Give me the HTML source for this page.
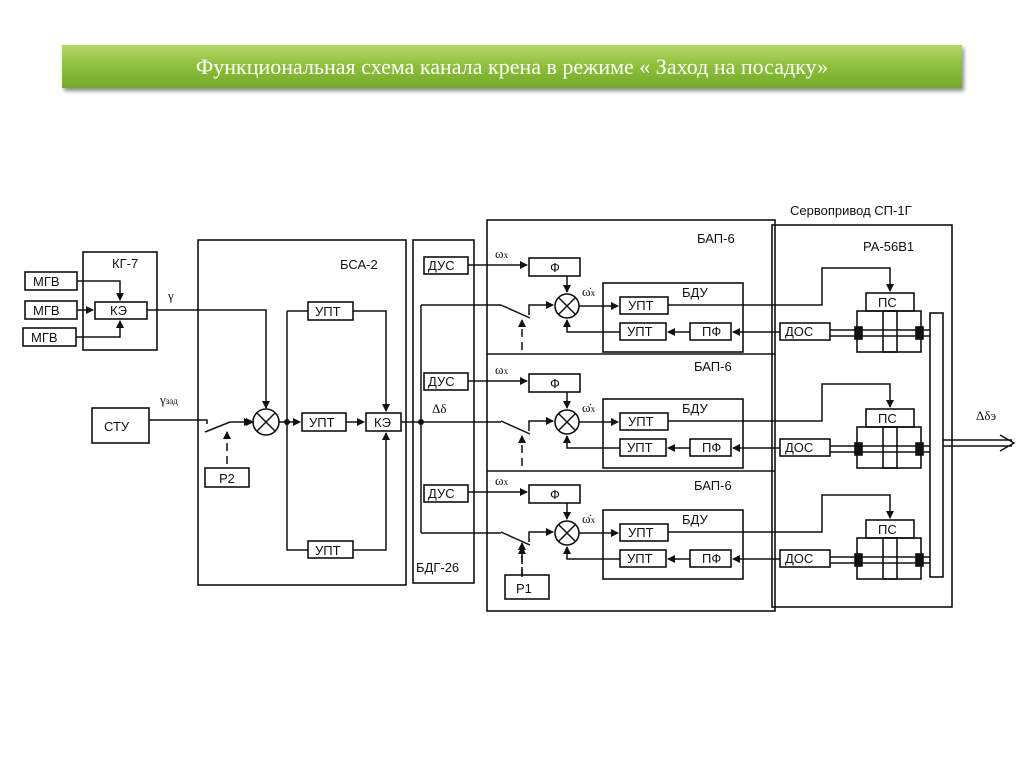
<!DOCTYPE html>
<html><head><meta charset="utf-8"><style>
body{margin:0;width:1024px;height:767px;background:#fff;overflow:hidden;position:relative;font-family:"Liberation Sans",sans-serif}
.ban{position:absolute;left:62px;top:45px;width:900px;height:43px;background:linear-gradient(#b5d86a,#8cbf3a 50%,#77a82c);box-shadow:2px 3px 4px rgba(0,0,0,.45);color:#fff;font-family:"Liberation Serif",serif;font-size:22px;text-align:center;line-height:43px}
svg{position:absolute;left:0;top:0}
text{font-family:"Liberation Sans",sans-serif;font-size:13px;fill:#111}
.g{font-family:"Liberation Serif",serif}
rect{fill:none;stroke:#111;stroke-width:1.6}
path,line{fill:none;stroke:#111;stroke-width:1.5}
</style></head><body>
<div class="ban">Функциональная схема канала крена в режиме « Заход на посадку»</div>
<svg width="1024" height="767">
<defs><marker id="a" markerWidth="8" markerHeight="8" refX="7" refY="4" orient="auto" markerUnits="userSpaceOnUse"><path d="M0,0L8,4L0,8z" style="fill:#111;stroke:none"/></marker></defs>
<!-- КГ-7 -->
<rect x="83" y="252" width="74" height="98"/><text x="112" y="268">КГ-7</text>
<rect x="25" y="272" width="52" height="18"/><text x="33" y="286">МГВ</text>
<rect x="25" y="301" width="52" height="18"/><text x="33" y="315">МГВ</text>
<rect x="23" y="328" width="53" height="18"/><text x="31" y="342">МГВ</text>
<rect x="95" y="302" width="52" height="17"/><text x="110" y="315">КЭ</text>
<path d="M77,281H120V300" marker-end="url(#a)"/><path d="M77,310H93" marker-end="url(#a)"/><path d="M76,337H120V321" marker-end="url(#a)"/>
<text x="168" y="300" class="g">γ</text>
<path d="M147,310H266V408" marker-end="url(#a)"/>
<!-- БСА-2 -->
<rect x="198" y="240" width="208" height="345"/><text x="340" y="269">БСА-2</text>
<rect x="92" y="408" width="57" height="35"/><text x="104" y="431">СТУ</text>
<text x="160" y="404" class="g">γ<tspan font-size="9">зад</tspan></text>
<path d="M149,420H207V424M205,432L230,422H251" marker-end="url(#a)"/>
<path d="M251,422H253" marker-end="url(#a)"/>
<rect x="205" y="468" width="44" height="19"/><text x="219" y="483">Р2</text>
<path d="M227,464V432" stroke-dasharray="8,5" marker-end="url(#a)"/>
<circle cx="266" cy="422" r="13" fill="none" stroke="#111" stroke-width="1.6"/><path d="M257,413L275,431M275,413L257,431"/>
<path d="M279,422H300" marker-end="url(#a)"/><circle cx="287" cy="422" r="3" fill="#111"/>
<path d="M287,311V550H308M287,311H308"/>
<rect x="308" y="302" width="45" height="18"/><text x="315" y="316">УПТ</text>
<rect x="302" y="413" width="44" height="18"/><text x="309" y="427">УПТ</text>
<rect x="308" y="541" width="45" height="17"/><text x="315" y="555">УПТ</text>
<rect x="366" y="413" width="35" height="18"/><text x="374" y="427">КЭ</text>
<path d="M346,422H364" marker-end="url(#a)"/>
<path d="M353,311H386V411" marker-end="url(#a)"/><path d="M353,550H386V433" marker-end="url(#a)"/>
<path d="M401,422H501"/><circle cx="421" cy="422" r="3" fill="#111"/>
<text x="432" y="413" class="g" font-size="12">Δδ</text>
<!-- БДГ-26 -->
<rect x="413" y="240" width="61" height="343"/><text x="416" y="572">БДГ-26</text>
<rect x="424" y="257" width="44" height="17"/><text x="428" y="270">ДУС</text>
<rect x="424" y="373" width="44" height="17"/><text x="428" y="386">ДУС</text>
<rect x="424" y="485" width="44" height="17"/><text x="428" y="498">ДУС</text>
<path d="M421,305V533M421,305H501M421,533H501"/>
<!-- БАП-6 -->
<rect x="487" y="220" width="288" height="391"/><line x1="487" y1="354" x2="775" y2="354"/><line x1="487" y1="471" x2="775" y2="471"/>
<text x="697" y="243">БАП-6</text><text x="694" y="371">БАП-6</text><text x="694" y="490">БАП-6</text>
<rect x="505" y="575" width="44" height="24"/><text x="516" y="593">Р1</text>
<path d="M522,575V543" stroke-dasharray="8,5" marker-end="url(#a)"/>
<g id="ch">
<path d="M468,265H527" marker-end="url(#a)"/>
<text x="495" y="258" class="g">ω<tspan font-size="9">x</tspan></text>
<rect x="529" y="258" width="51" height="18"/><text x="550" y="272">Ф</text>
<path d="M567,276V292" marker-end="url(#a)"/>
<text x="582" y="296" class="g">ω̇<tspan font-size="9">x</tspan></text>
<path d="M501,305L530,318M529,315V305H553" marker-end="url(#a)"/>
<path d="M522,350V320" stroke-dasharray="8,5" marker-end="url(#a)"/>
<circle cx="567" cy="306" r="12" fill="none" stroke="#111" stroke-width="1.6"/><path d="M559,298L575,314M575,298L559,314"/>
<path d="M579,306H618" marker-end="url(#a)"/>
<rect x="603" y="283" width="140" height="69"/><text x="682" y="297">БДУ</text>
<rect x="620" y="297" width="48" height="17"/><text x="628" y="310">УПТ</text>
<rect x="620" y="323" width="46" height="17"/><text x="627" y="336">УПТ</text>
<rect x="690" y="323" width="41" height="17"/><text x="702" y="336">ПФ</text>
<path d="M620,332H567V320" marker-end="url(#a)"/>
<path d="M690,332H668" marker-end="url(#a)"/>
<path d="M780,332H733" marker-end="url(#a)"/>
<rect x="780" y="323" width="50" height="17"/><text x="785" y="336">ДОС</text>
<path d="M668,305H822V268H890V291" marker-end="url(#a)"/>
<rect x="866" y="293" width="48" height="18"/><text x="878" y="307">ПС</text>
<rect x="857" y="311" width="64" height="41"/><rect x="883" y="311" width="14" height="41"/>
<path d="M830,330H930M830,336H930"/>
<rect x="855" y="327" width="7" height="12" style="fill:#111"/><rect x="916" y="327" width="7" height="12" style="fill:#111"/>
</g>
<use href="#ch" y="116"/><use href="#ch" y="227"/>
<!-- servo -->
<rect x="772" y="225" width="180" height="382"/>
<text x="790" y="215">Сервопривод СП-1Г</text><text x="863" y="251">РА-56В1</text>
<rect x="930" y="313" width="13" height="264" style="fill:#fff"/>
<path d="M943,440H1012M943,446H1012M1000,435L1014,443L1000,451" stroke-width="1.2"/>
<text x="976" y="420" class="g" font-size="12">Δδэ</text>
</svg>
</body></html>
